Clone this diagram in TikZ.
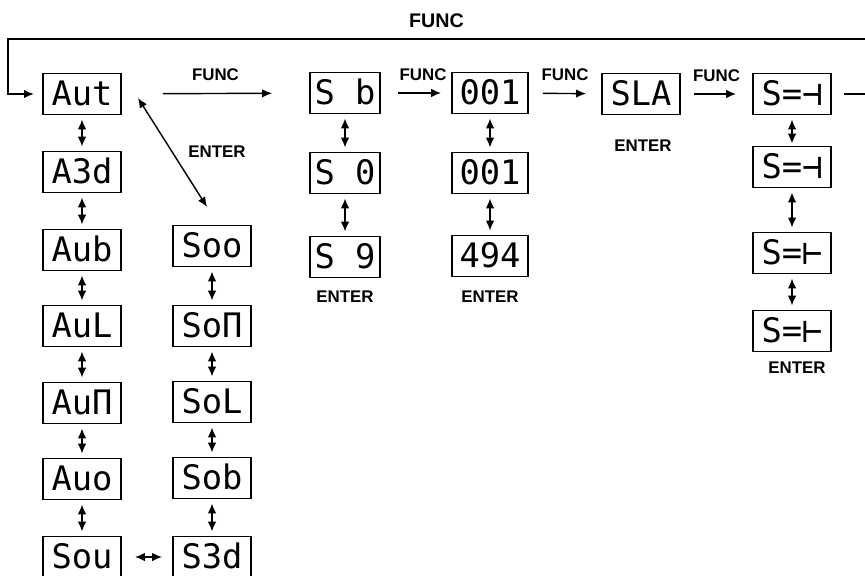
\documentclass[tikz,border=0pt]{standalone}
\usepackage{fontspec}
\setmainfont{Liberation Sans}
\newfontfamily\ledfont{DejaVu Sans Mono}
\usetikzlibrary{arrows.meta}
\tikzset{
  led box/.style={draw, line width=1.4pt, minimum width=1.95cm, minimum height=1.025cm,
    inner sep=0pt, font=\ledfont\fontsize{24}{24}\selectfont, text height=17pt, text depth=0pt},
  key label/.style={font=\bfseries\fontsize{12}{12}\selectfont},
  updown/.style={<->, shorten <=0.1cm, shorten >=0.1cm},
}

\begin{document}
\begin{tikzpicture}[>={Latex[length=7pt,width=6pt]}, line width=1pt]
  \useasboundingbox (0,0) rectangle (21.625,-14.375);
  % auto column
  \node[led box] (aut) at (2.05,-2.35) {Aut};
  \node[led box] (a3d) at (2.05,-4.3) {A3d};
  \node[led box] (aub) at (2.05,-6.25) {Aub};
  \node[led box] (aul) at (2.05,-8.15) {AuL};
  \node[led box] (aun) at (2.05,-10.075) {AuΠ};
  \node[led box] (auo) at (2.05,-11.975) {Auo};
  \node[led box] (sou) at (2.05,-13.925) {Sou};
  % sound column
  \node[led box] (soo) at (5.3,-6.15) {Soo};
  \node[led box] (son) at (5.3,-8.15) {SoΠ};
  \node[led box] (sol) at (5.3,-10.05) {SoL};
  \node[led box] (sob) at (5.3,-11.95) {Sob};
  \node[led box] (s3d) at (5.3,-13.925) {S3d};
  % speed, address, slave, setting
  \node[led box, minimum width=1.75cm] (sb) at (8.625,-2.325) {S b};
  \node[led box, minimum width=1.75cm] (s0) at (8.625,-4.325) {S 0};
  \node[led box, minimum width=1.75cm] (s9) at (8.625,-6.425) {S 9};
  \node[led box, minimum width=1.9cm] (adra) at (12.25,-2.325) {001};
  \node[led box, minimum width=1.9cm] (adrb) at (12.25,-4.325) {001};
  \node[led box, minimum width=1.9cm] (adrc) at (12.25,-6.4) {494};
  \node[led box] (sla) at (16.025,-2.35) {SLA};
  \node[led box] (seta) at (19.8,-2.35) {S=⊣};
  \node[led box] (setb) at (19.8,-4.175) {S=⊣};
  \node[led box] (setc) at (19.8,-6.325) {S=⊢};
  \node[led box] (setd) at (19.8,-8.275) {S=⊢};
  \node[key label] (enta) at (5.425,-3.8) {ENTER};
  \node[key label] (entb) at (8.625,-7.425) {ENTER};
  \node[key label] (entc) at (12.25,-7.425) {ENTER};
  \node[key label] (entd) at (16.075,-3.65) {ENTER};
  \node[key label] (ente) at (19.925,-9.2) {ENTER};

  \draw[updown] (aut) -- (a3d);
  \draw[updown] (a3d) -- (aub);
  \draw[updown] (aub) -- (aul);
  \draw[updown] (aul) -- (aun);
  \draw[updown] (aun) -- (auo);
  \draw[updown] (auo) -- (sou);
  \draw[updown] (soo) -- (son);
  \draw[updown] (son) -- (sol);
  \draw[updown] (sol) -- (sob);
  \draw[updown] (sob) -- (s3d);
  \draw[<->, shorten <=0.325cm, shorten >=0.25cm] (sou) -- (s3d);
  \draw[updown] (sb) -- (s0);
  \draw[updown] (s0) -- (s9);
  \draw[updown] (adra) -- (adrb);
  \draw[updown] (adrb) -- (adrc);
  \draw[updown, shorten >=0.05cm] (seta) -- (setb);
  \draw[updown] (setb) -- (setc);
  \draw[updown] (setc) -- (setd);
  \draw[<->] ([xshift=0.4cm,yshift=-0.1cm]aut.east) -- ([xshift=-0.125cm,yshift=0.44cm]soo.north);

  \draw[->, shorten <=1.025cm, shorten >=0.925cm] (aut) -- (sb) node[midway, above=5pt, key label] {FUNC};
  \draw[->, shorten <=0.425cm, shorten >=0.25cm] (sb) -- (adra) node[pos=0.6, above=5pt, key label] {FUNC};
  \draw[->, shorten <=0.35cm, shorten >=0.375cm] (adra) -- (sla) node[midway, above=5pt, key label] {FUNC};
  \draw[->, shorten <=0.325cm, shorten >=0.4cm] (sla) -- (seta) node[midway, above=5pt, key label] {FUNC};

  \coordinate (loopend) at (21.625,-0.975);
  \draw[shorten <=0.3cm] (seta.east) -- (seta.east -| loopend);
  \draw[->, line width=1.2pt, shorten >=0.2cm] (loopend) -- node[above=4pt, font=\bfseries\fontsize{14}{14}\selectfont] {FUNC}
    (0.2,-0.975) |- (aut.west);
\end{tikzpicture}
\end{document}
